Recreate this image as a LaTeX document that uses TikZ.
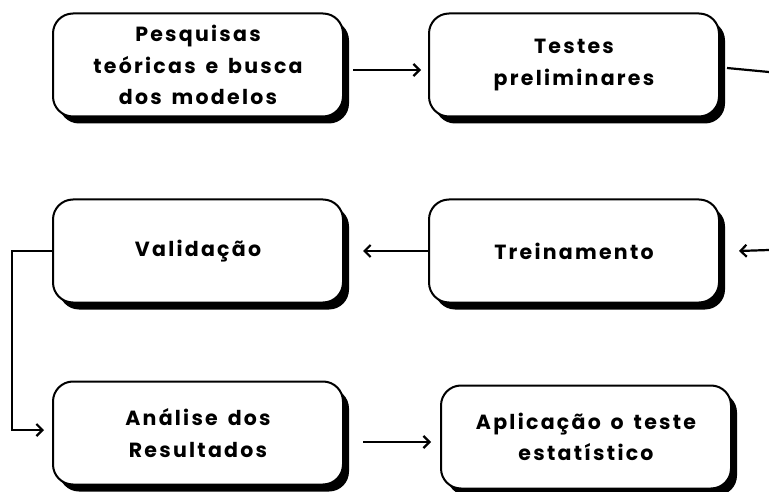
\documentclass[tikz,border=0pt]{standalone}
\usepackage{fontspec}
\setmainfont{Poppins}[LetterSpace=11,WordSpace=1.5]
\usetikzlibrary{shadows,arrows.meta}

\begin{document}
\begin{tikzpicture}[x=1pt,y=-1pt]
        \useasboundingbox (0,0) rectangle (769,492);
        \tikzstyle{caixa} = [rectangle, draw, fill=white, line width=2pt, rounded corners=20pt,
            minimum width=290pt, minimum height=103pt, align=center,
            font=\bfseries\fontsize{20.5}{31.5}\selectfont,
            drop shadow={shadow xshift=6pt, shadow yshift=-7pt, fill=black, opacity=1}]
        \tikzstyle{seta} = [line width=2.2pt, -{Straight Barb[length=6pt,width=12pt]}]
        \node[caixa] (0) at (198,65) {Pesquisas\\teóricas e busca\\dos modelos};
        \node[caixa] (1) at (574,65) {Testes\\preliminares};
        \node[caixa] (2) at (574,251) {Treinamento};
        \node[caixa] (3) at (198,251) {Validação};
        \node[caixa] (4) at (198,433) {Análise dos\\Resultados};
        \node[caixa] (5) at (586,437) {Aplicação o teste\\estatístico};
        \coordinate (s1) at (769,72);
        \coordinate (s2) at (769,250);

        \draw[seta] ([xshift=9pt,yshift=-5pt]0.east) -- +(68,0);
        \draw[line width=2.2pt] ([xshift=7pt,yshift=-3pt]1.east) -- (s1);
        \draw[seta] (s2) -- ([xshift=19pt]2.east);
        \draw[seta] (2.west) -- ([xshift=19pt]3.east);
        \draw[seta] (3.west) -- ++(-40,0) |- ([xshift=-8pt,yshift=3pt]4.west);
        \draw[seta] ([xshift=19pt,yshift=-9pt]4.east) -- +(68,0);
      \end{tikzpicture}
\end{document}
